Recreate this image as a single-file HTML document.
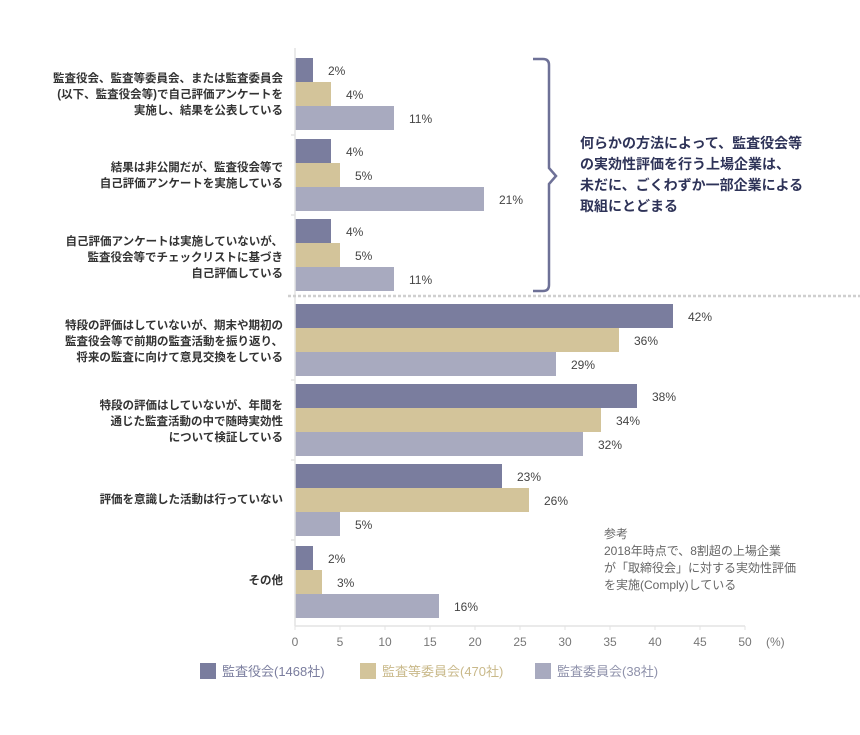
<!DOCTYPE html>
<html><head><meta charset="utf-8"><style>
body{margin:0;background:#fff;}
svg text{font-family:"Liberation Sans","Noto Sans CJK JP",sans-serif;}
</style></head><body>
<svg width="860" height="730" viewBox="0 0 860 730" xmlns="http://www.w3.org/2000/svg">
<g>
<rect x="295" y="58" width="18" height="24" fill="#7a7d9e"/>
<rect x="295" y="82" width="36" height="24" fill="#d3c49a"/>
<rect x="295" y="106" width="99" height="24" fill="#a8aabf"/>
<rect x="295" y="139" width="36" height="24" fill="#7a7d9e"/>
<rect x="295" y="163" width="45" height="24" fill="#d3c49a"/>
<rect x="295" y="187" width="189" height="24" fill="#a8aabf"/>
<rect x="295" y="219" width="36" height="24" fill="#7a7d9e"/>
<rect x="295" y="243" width="45" height="24" fill="#d3c49a"/>
<rect x="295" y="267" width="99" height="24" fill="#a8aabf"/>
<rect x="295" y="304" width="378" height="24" fill="#7a7d9e"/>
<rect x="295" y="328" width="324" height="24" fill="#d3c49a"/>
<rect x="295" y="352" width="261" height="24" fill="#a8aabf"/>
<rect x="295" y="384" width="342" height="24" fill="#7a7d9e"/>
<rect x="295" y="408" width="306" height="24" fill="#d3c49a"/>
<rect x="295" y="432" width="288" height="24" fill="#a8aabf"/>
<rect x="295" y="464" width="207" height="24" fill="#7a7d9e"/>
<rect x="295" y="488" width="234" height="24" fill="#d3c49a"/>
<rect x="295" y="512" width="45" height="24" fill="#a8aabf"/>
<rect x="295" y="546" width="18" height="24" fill="#7a7d9e"/>
<rect x="295" y="570" width="27" height="24" fill="#d3c49a"/>
<rect x="295" y="594" width="144" height="24" fill="#a8aabf"/>
</g>
<g font-size="12" fill="#444">
<text x="328" y="75">2%</text><text x="346" y="99">4%</text><text x="409" y="123">11%</text>
<text x="346" y="156">4%</text><text x="355" y="180">5%</text><text x="499" y="204">21%</text>
<text x="346" y="236">4%</text><text x="355" y="260">5%</text><text x="409" y="284">11%</text>
<text x="688" y="321">42%</text><text x="634" y="345">36%</text><text x="571" y="369">29%</text>
<text x="652" y="401">38%</text><text x="616" y="425">34%</text><text x="598" y="449">32%</text>
<text x="517" y="481">23%</text><text x="544" y="505">26%</text><text x="355" y="529">5%</text>
<text x="328" y="563">2%</text><text x="337" y="587">3%</text><text x="454" y="611">16%</text>
</g>
<line x1="295" y1="48" x2="295" y2="626" stroke="#e3e3e3" stroke-width="1.5"/>
<g stroke="#e3e3e3" stroke-width="1.5">
<line x1="291" y1="135" x2="295" y2="135"/><line x1="291" y1="215" x2="295" y2="215"/>
<line x1="291" y1="380" x2="295" y2="380"/><line x1="291" y1="460" x2="295" y2="460"/><line x1="291" y1="540" x2="295" y2="540"/>
</g>
<line x1="288" y1="296" x2="860" y2="296" stroke="#cfcfcf" stroke-width="2.5" stroke-dasharray="3,2"/>
<line x1="295" y1="626" x2="745" y2="626" stroke="#e3e3e3" stroke-width="1.5"/>
<g stroke="#e3e3e3">
<line x1="295" y1="626" x2="295" y2="630"/><line x1="340" y1="626" x2="340" y2="630"/><line x1="385" y1="626" x2="385" y2="630"/><line x1="430" y1="626" x2="430" y2="630"/><line x1="475" y1="626" x2="475" y2="630"/><line x1="520" y1="626" x2="520" y2="630"/><line x1="565" y1="626" x2="565" y2="630"/><line x1="610" y1="626" x2="610" y2="630"/><line x1="655" y1="626" x2="655" y2="630"/><line x1="700" y1="626" x2="700" y2="630"/><line x1="745" y1="626" x2="745" y2="630"/>
</g>
<g fill="#777" font-size="12" text-anchor="middle">
<text x="295" y="646">0</text><text x="340" y="646">5</text><text x="385" y="646">10</text><text x="430" y="646">15</text><text x="475" y="646">20</text><text x="520" y="646">25</text><text x="565" y="646">30</text><text x="610" y="646">35</text><text x="655" y="646">40</text><text x="700" y="646">45</text><text x="745" y="646">50</text>
</g>
<text x="766" y="646" font-size="12" fill="#777">(%)</text>
<path d="M533 59 H543 Q549 59 549 65 V168 L556 176 L549 184 V285 Q549 291 543 291 H533" fill="none" stroke="#6e7197" stroke-width="2.5"/>
<g font-size="14" font-weight="bold" fill="#2e3358">
<text x="580" y="148">何らかの方法によって、監査役会等</text>
<text x="580" y="169">の実効性評価を行う上場企業は、</text>
<text x="580" y="190">未だに、ごくわずか一部企業による</text>
<text x="580" y="211">取組にとどまる</text>
</g>
<g font-size="12" fill="#666">
<text x="604" y="538">参考</text>
<text x="604" y="555">2018年時点で、8割超の上場企業</text>
<text x="604" y="572">が「取締役会」に対する実効性評価</text>
<text x="604" y="589">を実施(Comply)している</text>
</g>
<g font-size="11.5" fill="#333" text-anchor="end" font-weight="bold">
<text x="283" y="82">監査役会、監査等委員会、または監査委員会</text>
<text x="283" y="98">(以下、監査役会等)で自己評価アンケートを</text>
<text x="283" y="114">実施し、結果を公表している</text>
<text x="283" y="171">結果は非公開だが、監査役会等で</text>
<text x="283" y="187">自己評価アンケートを実施している</text>
<text x="283" y="245">自己評価アンケートは実施していないが、</text>
<text x="283" y="261">監査役会等でチェックリストに基づき</text>
<text x="283" y="277">自己評価している</text>
<text x="283" y="329">特段の評価はしていないが、期末や期初の</text>
<text x="283" y="345">監査役会等で前期の監査活動を振り返り、</text>
<text x="283" y="361">将来の監査に向けて意見交換をしている</text>
<text x="283" y="409">特段の評価はしていないが、年間を</text>
<text x="283" y="425">通じた監査活動の中で随時実効性</text>
<text x="283" y="441">について検証している</text>
<text x="283" y="503">評価を意識した活動は行っていない</text>
<text x="283" y="584">その他</text>
</g>
<rect x="200" y="663" width="16" height="16" fill="#7a7d9e"/>
<text x="222" y="676" font-size="13" fill="#7a7d9e">監査役会(1468社)</text>
<rect x="360" y="663" width="16" height="16" fill="#d3c49a"/>
<text x="382" y="676" font-size="13" fill="#c9b98a">監査等委員会(470社)</text>
<rect x="535" y="663" width="16" height="16" fill="#a8aabf"/>
<text x="557" y="676" font-size="13" fill="#8f92ab">監査委員会(38社)</text>
</svg>
</body></html>
